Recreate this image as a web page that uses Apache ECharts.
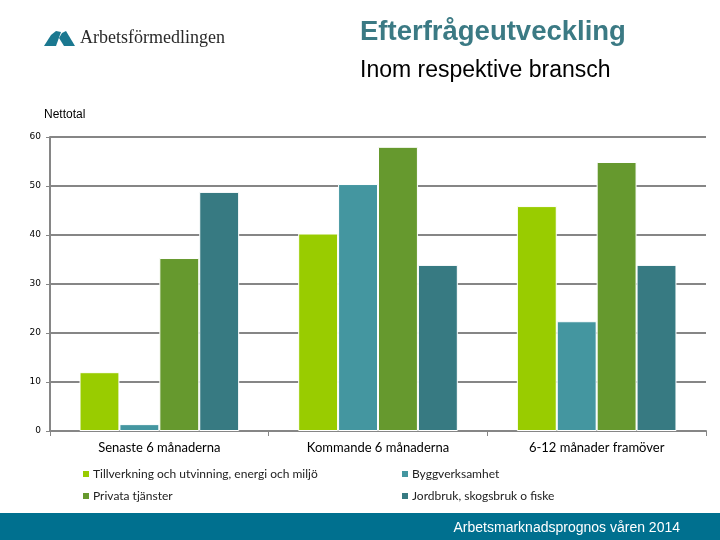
<!DOCTYPE html>
<html><head><meta charset="utf-8">
<script src="https://cdn.jsdelivr.net/npm/echarts@6/dist/echarts.min.js"></script>
<style>html,body{margin:0;padding:0;background:#fff}#c{width:720px;height:540px}</style>
</head><body><div id="c"></div>
<script>
const categories = ['Senaste 6 månaderna', 'Kommande 6 månaderna', '6-12 månader framöver'];
const seriesNames = ['Tillverkning och utvinning, energi och miljö', 'Byggverksamhet', 'Privata tjänster', 'Jordbruk, skogsbruk o fiske'];
const tillverkning = [12.0, 40.3, 45.9];
const bygg = [1.4, 50.4, 22.4];
const privata = [35.3, 58.0, 54.9];
const jordbruk = [48.8, 33.9, 33.9];
const colors = ['#99CC00', '#4496A0', '#66992E', '#377A82'];
const yTicks = {min: 0, max: 60, interval: 10};

const chart = echarts.init(document.getElementById('c'), null, {renderer: 'canvas'});
const catFont = 'Lato, "Open Sans", sans-serif';
const values = [tillverkning, bygg, privata, jordbruk];
chart.setOption({
  animation: false,
  backgroundColor: '#fff',
  title: [
    {text: 'Efterfrågeutveckling', left: 360, top: 18, padding: 0, textStyle: {fontFamily: 'Liberation Sans, Arial', fontWeight: 'bold', fontSize: 27.5, color: '#3B7A84'}},
    {text: 'Inom respektive bransch', left: 360, top: 59, padding: 0, textStyle: {fontFamily: 'Liberation Sans, Arial', fontWeight: 'normal', fontSize: 23, color: '#000'}},
    {text: 'Nettotal', left: 44, top: 109, padding: 0, textStyle: {fontFamily: 'Liberation Sans, Arial', fontWeight: 'normal', fontSize: 12, color: '#000'}}
  ],
  graphic: [
    {type: 'rect', left: 0, top: 513, shape: {width: 720, height: 27}, style: {fill: '#00708F'}, silent: true},
    {type: 'text', right: 40, top: 521, style: {text: 'Arbetsmarknadsprognos våren 2014', fill: '#fff', font: '14px "Liberation Sans", Arial'}},
    {type: 'polygon', shape: {points: [[44,46],[51,35],[56,31],[61,32],[56,46]]}, style: {fill: '#1B7890'}},
    {type: 'polygon', shape: {points: [[59,38],[62,33],[66,31],[75,46],[64,46]]}, style: {fill: '#1B7890'}},
    {type: 'text', left: 80, top: 29, style: {text: 'Arbetsförmedlingen', fill: '#2a2a2a', font: '18px "Liberation Serif", serif'}}
  ],
  legend: [
    {data: [seriesNames[0], seriesNames[2]], orient: 'vertical', left: 81, top: 467, padding: 0, itemWidth: 8, itemHeight: 8, itemGap: 8, icon: 'rect',
     textStyle: {fontFamily: catFont, fontSize: 12, color: '#222', padding: [0,0,0,-2], lineHeight: 14}},
    {data: [seriesNames[1], seriesNames[3]], orient: 'vertical', left: 400, top: 467, padding: 0, itemWidth: 8, itemHeight: 8, itemGap: 8, icon: 'rect',
     textStyle: {fontFamily: catFont, fontSize: 12, color: '#222', padding: [0,0,0,-2], lineHeight: 14}}
  ],
  grid: {left: 50, right: 14, top: 137, bottom: 109, containLabel: false},
  xAxis: {
    type: 'category', data: categories,
    axisLine: {lineStyle: {color: '#868686', width: 2}},
    axisTick: {show: true, length: 5, lineStyle: {color: '#868686', width: 1}},
    axisLabel: {fontFamily: catFont, fontSize: 13, color: '#000', margin: 10}
  },
  yAxis: {
    type: 'value', min: yTicks.min, max: yTicks.max, interval: yTicks.interval,
    axisLine: {show: true, lineStyle: {color: '#868686', width: 2}},
    axisTick: {show: true, length: 4, lineStyle: {color: '#868686', width: 1}},
    splitLine: {lineStyle: {color: '#868686', width: 2}},
    axisLabel: {fontFamily: 'DejaVu Sans', fontSize: 9, color: '#000', margin: 9}
  },
  series: values.map((v, i) => ({
    name: seriesNames[i], type: 'bar', data: v,
    barGap: '0%', barCategoryGap: '27%',
    itemStyle: {color: colors[i], borderColor: '#fff', borderWidth: 1}
  }))
});
</script></body></html>
